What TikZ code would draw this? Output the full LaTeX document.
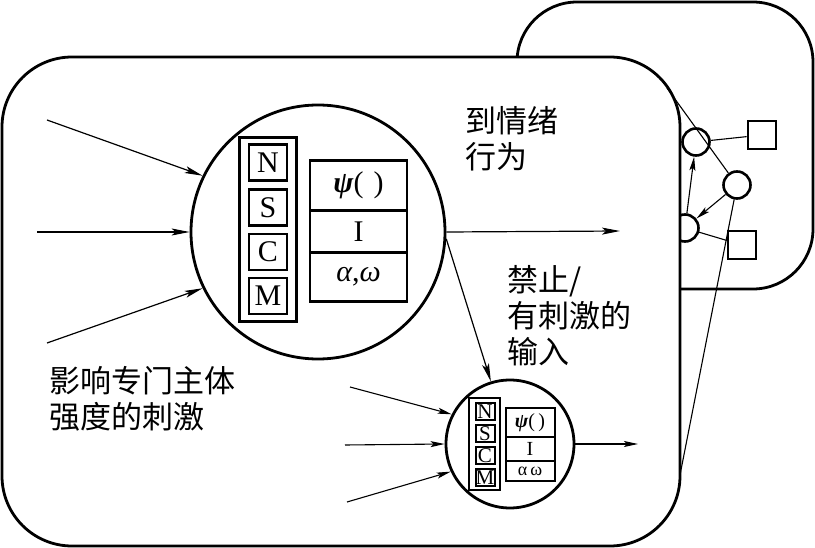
\documentclass[tikz,border=0pt]{standalone}
\usepackage{fontspec}
\setmainfont{Liberation Serif}
\newfontfamily\cjk{Noto Sans CJK SC}
\usetikzlibrary{arrows.meta}
\begin{document}
\begin{tikzpicture}[x=1pt,y=-1pt,
  boxline/.style={line width=2.8pt},
  arr/.style={line width=1.2pt,-{Stealth[length=18pt,width=7pt,inset=4pt]}},
  sarr/.style={line width=1.1pt,-{Stealth[length=14pt,width=6pt,inset=3pt]}},
  thinline/.style={line width=1.1pt},
  bigcircle/.style={circle,draw,line width=2.8pt,inner sep=0pt,fill=white},
  netcircle/.style={circle,draw,line width=2.6pt,inner sep=0pt,minimum size=27pt,fill=white},
  netsquare/.style={rectangle,draw,line width=2.6pt,inner sep=0pt,minimum size=28pt,fill=white},
  letterbox/.style={draw,line width=2.6pt,inner sep=0pt,minimum width=38pt,minimum height=36pt,font=\fontsize{30}{30}\selectfont},
  sletterbox/.style={draw,line width=2pt,inner sep=0pt,minimum width=19pt,minimum height=17pt,font=\fontsize{21}{21}\selectfont},
  cell/.style={draw,line width=2.6pt,inner sep=0pt,minimum width=97pt,font=\fontsize{30}{30}\selectfont},
  scell/.style={draw,line width=2pt,inner sep=0pt,minimum width=49pt,font=\fontsize{20}{20}\selectfont},
  label/.style={inner sep=0pt,anchor=north west,align=left,font=\cjk\fontsize{31}{36}\selectfont}
]
\useasboundingbox (0,0) rectangle (815,548);

% back box (magnified network)
\draw[boxline,fill=white,rounded corners=60pt] (517,2) rectangle (813,289);
\node[netcircle] (A) at (696,142) {};
\node[netcircle] (B) at (737,185) {};
\node[netcircle] (C) at (685,228) {};
\node[netsquare] (sq1) at (762,135) {};
\node[netsquare] (sq2) at (742,245) {};
\draw[thinline] (A) -- (sq1);
\draw[thinline] (C) -- (sq2);
\draw[sarr] (C) -- (A);
\draw[sarr] (B) -- (C);

% front box
\draw[boxline,fill=white,rounded corners=70pt] (2,57) rectangle (680,546);
\coordinate (p1) at (667,88);
\coordinate (p2) at (680,475);
\draw[thinline] (p1) -- (B);
\draw[thinline] (B) -- (p2);

% main unit
\node[bigcircle,minimum size=254pt] (main) at (318,232) {};
\draw[line width=2.6pt] (239.5,137.5) rectangle (296.5,321.5);
\node[letterbox] (N) at (268,162.5) {N};
\node[letterbox] (S) at (268,207.5) {S};
\node[letterbox] (Cc) at (268,252) {C};
\node[letterbox] (M) at (268,296) {M};
\node[cell,minimum height=50pt] (t1) at (358.5,185.5) {\textit{\textbf{ψ}}(\,\,)};
\node[cell,minimum height=42pt] (t2) at (358.5,231.5) {I};
\node[cell,minimum height=49pt] (t3) at (358.5,277) {\textit{α},\textit{ω}};

% inputs of main unit
\coordinate (in1) at (47,120);
\coordinate (in2) at (37,232);
\coordinate (in3) at (47,343);
\coordinate (out1) at (620,231);
\draw[arr] (in1) -- (main.154);
\draw[arr] (in2) -- (main.west);
\draw[arr] (in3) -- (main.206);
\draw[arr] (main.east) -- (out1);

% small unit
\node[bigcircle,minimum size=128pt] (small) at (510,444) {};
\draw[line width=2pt] (469,398) rectangle (500,490);
\node[sletterbox] (sN) at (485,411.5) {N};
\node[sletterbox] (sS) at (485,433.5) {S};
\node[sletterbox] (sC) at (485,455.5) {C};
\node[sletterbox] (sM) at (485,477.5) {M};
\node[scell,minimum height=29pt] (st1) at (530,422.5) {\textit{\textbf{ψ}}(\,)};
\node[scell,minimum height=24pt] (st2) at (530,449) {I};
\node[scell,minimum height=20pt,font=\fontsize{18}{18}\selectfont] (st3) at (530,471) {α\,ω};
\draw[arr] (main.-3) -- (small.107);

\coordinate (sin1) at (350,387);
\coordinate (sin2) at (345,445);
\coordinate (sin3) at (347,502);
\coordinate (sout) at (638,444);
\draw[sarr] (sin1) -- (small.153);
\draw[sarr] (sin2) -- (small.west);
\draw[sarr] (sin3) -- (small.205);
\draw[sarr] (small.east) -- (sout);

% labels
\node[label] (l1) at (465,106) {到情绪\\行为};
\node[label] (l2) at (507,265) {禁止/\\有刺激的\\输入};
\node[label] (l3) at (49,366) {影响专门主体\\强度的刺激};
\end{tikzpicture}
\end{document}
